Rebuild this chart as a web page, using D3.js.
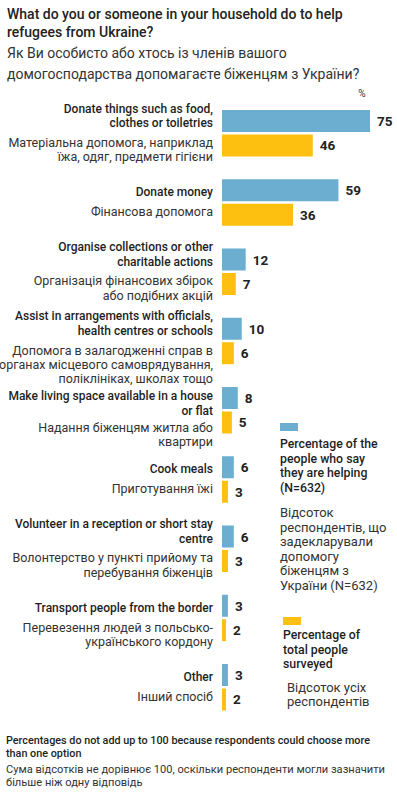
<!DOCTYPE html>
<html>
<head>
<meta charset="utf-8">
<script src="https://cdn.jsdelivr.net/npm/d3@7"></script>
<style>
    body { margin: 0; background: #fff; }
    svg { font-family: Roboto, "Noto Sans", sans-serif; display: block; }
    .en { font-weight: 500; fill: #1e1e1e; }
    .ua { font-weight: 400; fill: #333; }
</style>
</head>
<body>
<div id="chart"></div>
<script>
// chart data
let labelsEn = [
    ["Donate things such as food,", "clothes or toiletries"],
    ["Donate money"],
    ["Organise collections  or other", "charitable actions"],
    ["Assist in arrangements with officials,", "health centres  or schools"],
    ["Make living space  available in a house", "or flat"],
    ["Cook meals"],
    ["Volunteer in a reception  or short stay", "centre"],
    ["Transport people from the border"],
    ["Other"]
];
let labelsUa = [
    ["Матеріальна допомога, наприклад", "їжа, одяг, предмети гігієни"],
    ["Фінансова допомога"],
    ["Організація фінансових збірок", "або подібних акцій"],
    ["Допомога в залагодженні справ в", "органах місцевого самоврядування,", "поліклініках, школах тощо"],
    ["Надання біженцям житла або", "квартири"],
    ["Приготування їжі"],
    ["Волонтерство у пункті прийому та", "перебування біженців"],
    ["Перевезення людей з польсько-", "українського кордону"],
    ["Інший спосіб"]
];
let helpingValues = [75, 59, 12, 10, 8, 6, 6, 3, 3];
let surveyedValues = [46, 36, 7, 6, 5, 3, 3, 2, 2];
let seriesKeys = ["helping", "surveyed"];

let titleLines = ["What do you or someone in your household do to help", "refugees from Ukraine?"];
let subtitleLines = ["Як Ви особисто або хтось із членів  вашого", "домогосподарства допомагаєте біженцям з України?"];
let legendHelpingEn = ["Percentage of the", "people who say", "they are helping", "(N=632)"];
let legendHelpingUa = ["Відсоток", "респондентів, що", "задекларували", "допомогу", "біженцям з", "України (N=632)"];
let legendSurveyedEn = ["Percentage of", "total people", "surveyed"];
let legendSurveyedUa = ["Відсоток усіх", "респондентів"];
let notesEn = ["Percentages do not add up to 100 because respondents could choose more", "than one option"];
let notesUa = ["Сума відсотків не дорівнює 100, оскільки респонденти могли зазначити", "більше ніж одну відповідь"];

let colors = {helping: "#6baed0", surveyed: "#fdc010"};

let width = 397, height = 794;
let lineH = 14.3;

let svg = d3.select("#chart").append("svg")
    .attr("width", width)
    .attr("height", height);

svg.append("rect").attr("width", width).attr("height", height).attr("fill", "#fff");

// helper to write multi-line text
function multiline(sel, lines, x, y, lh) {
    lines.forEach((l, i) => {
        sel.append("tspan").attr("x", x).attr("y", y + i * lh).text(l);
    });
    return sel;
}

// title + subtitle
multiline(svg.append("text").attr("font-size", 14).attr("font-weight", 500).attr("fill", "#222"),
    titleLines, 7, 19, 17.5);
multiline(svg.append("text").attr("font-size", 14).attr("fill", "#333"),
    subtitleLines, 7, 58, 21);

// scales
let rows = helpingValues.map((v, i) => ({
    i: i, en: labelsEn[i], ua: labelsUa[i], helping: v, surveyed: surveyedValues[i]
}));

let x = d3.scaleLinear().domain([0, 75]).range([222, 370]);
let y0 = d3.scaleBand().domain(d3.range(rows.length)).range([110, 110 + 69.25 * rows.length]);
let y1 = d3.scaleBand().domain(seriesKeys).range([0, 46.5]).paddingInner(0.102);

svg.append("text")
    .attr("x", 362).attr("y", 97)
    .attr("text-anchor", "middle")
    .attr("font-size", 10)
    .attr("fill", "#333")
    .text("%");

let groups = svg.selectAll("g.row").data(rows).enter().append("g")
    .attr("class", "row")
    .attr("transform", d => "translate(0," + y0(d.i) + ")");

groups.selectAll("rect").data(d => seriesKeys.map(k => ({key: k, value: d[k]})))
    .enter().append("rect")
    .attr("x", x(0))
    .attr("y", d => y1(d.key))
    .attr("width", d => x(d.value) - x(0))
    .attr("height", y1.bandwidth())
    .attr("fill", d => colors[d.key]);

groups.selectAll("text.val").data(d => seriesKeys.map(k => ({key: k, value: d[k]})))
    .enter().append("text")
    .attr("class", "val")
    .attr("x", d => x(d.value) + 7)
    .attr("y", d => y1(d.key) + y1.bandwidth() / 2 + 5)
    .attr("font-size", 13.5)
    .attr("font-weight", 700)
    .attr("fill", "#222")
    .text(d => d.value);

// category labels: english ends next to the blue bar, ukrainian starts next to the orange one,
// pushed down when the previous block is still in the way
let lastBase = 0;
rows.forEach(d => {
    let top = y0(d.i);
    let cEn = top + y1("helping") + y1.bandwidth() / 2 + 6;
    let firstEn = Math.max(cEn - (d.en.length - 1) * lineH, lastBase + 17);
    multiline(svg.append("text").attr("class", "en").attr("font-size", 12).attr("text-anchor", "end"),
        d.en, 213, firstEn, lineH);
    let lastEn = firstEn + (d.en.length - 1) * lineH;

    let cUa = top + y1("surveyed") + y1.bandwidth() / 2 + 1.5;
    let firstUa = Math.max(cUa, lastEn + 17);
    multiline(svg.append("text").attr("class", "ua").attr("font-size", 12.5).attr("text-anchor", "end"),
        d.ua, 213, firstUa, lineH);
    lastBase = firstUa + (d.ua.length - 1) * lineH;
});

// legend
let legend = svg.append("g").attr("transform", "translate(280,423)");
legend.append("rect").attr("width", 18).attr("height", 8).attr("fill", colors.helping);
multiline(legend.append("text").attr("class", "en").attr("font-size", 12.3),
    legendHelpingEn, 0, 25, 14.6);
multiline(legend.append("text").attr("class", "ua").attr("font-size", 13),
    legendHelpingUa, 0, 94, 14.6);

legend.append("rect").attr("x", 3).attr("y", 194).attr("width", 18).attr("height", 8).attr("fill", colors.surveyed);
multiline(legend.append("text").attr("class", "en").attr("font-size", 12.3),
    legendSurveyedEn, 3, 216, 14.5);
multiline(legend.append("text").attr("class", "ua").attr("font-size", 13),
    legendSurveyedUa, 7, 269, 14.3);

// footnotes
multiline(svg.append("text").attr("class", "en").attr("font-size", 10.8),
    notesEn, 6, 744, 13);
multiline(svg.append("text").attr("class", "ua").attr("font-size", 11.1),
    notesUa, 6, 773, 13);
</script>
</body>
</html>
